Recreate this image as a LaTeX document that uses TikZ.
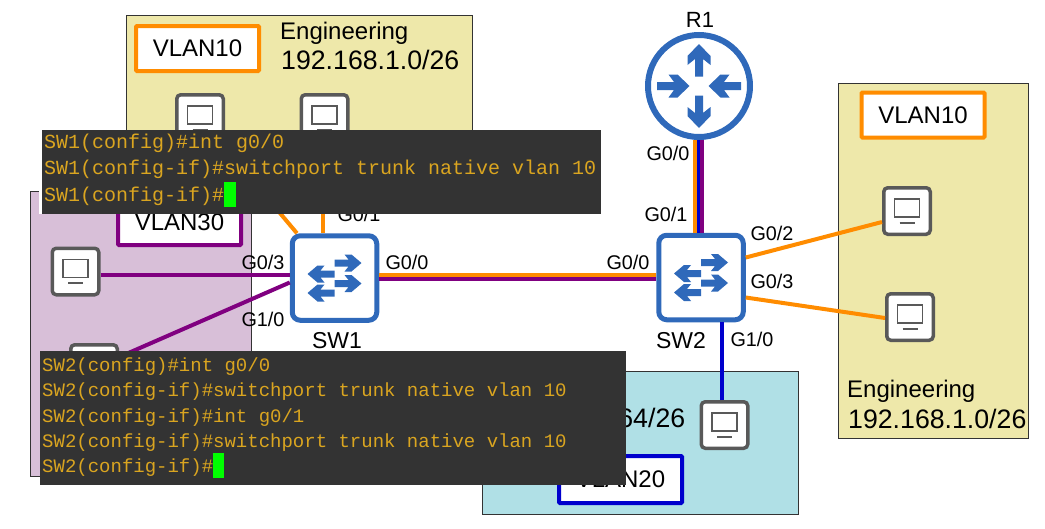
\documentclass[tikz,border=0pt]{standalone}
\usepackage{fontspec}
\setmainfont{Liberation Sans}
\newfontfamily\termfont{Liberation Mono}
\definecolor{iconblue}{HTML}{2F69BA}
\definecolor{icongrey}{HTML}{595959}
\definecolor{linkorange}{HTML}{FF8C00}
\definecolor{linkpurple}{HTML}{800080}
\definecolor{linkblue}{HTML}{0000CD}
\definecolor{zoneyellow}{HTML}{EEE8AA}
\definecolor{zonepurple}{HTML}{D8BFD8}
\definecolor{zoneblue}{HTML}{B0E0E6}
\definecolor{termgrey}{HTML}{333333}
\definecolor{termtext}{HTML}{DAA520}
\definecolor{termcursor}{HTML}{00FF00}
\newcommand{\swrowright}[1]{\fill [iconblue] (0,#1-3.5) -- (14,#1-3.5) -- (10,#1-8.5) -- (17,#1-8.5) -- (27,#1) -- (17,#1+8.5) -- (10,#1+8.5) -- (14,#1+3.5) -- (0,#1+3.5) -- cycle;}
\newcommand{\swrowleft}[1]{\fill [iconblue] (0,#1-3.5) -- (-14,#1-3.5) -- (-10,#1-8.5) -- (-17,#1-8.5) -- (-27,#1) -- (-17,#1+8.5) -- (-10,#1+8.5) -- (-14,#1+3.5) -- (0,#1+3.5) -- cycle;}
\newcommand{\rtrupdown}[1]{\fill [iconblue] (0,#1*-42) -- (11.5,#1*-30) -- (11.5,#1*-21) -- (4,#1*-27) -- (4,#1*-9.5) -- (-4,#1*-9.5) -- (-4,#1*-27) -- (-11.5,#1*-21) -- (-11.5,#1*-30) -- cycle;}
\newcommand{\rtrinward}[1]{\fill [iconblue] (#1*9.5,0) -- (#1*21.5,-11.5) -- (#1*30.5,-11.5) -- (#1*25,-4) -- (#1*42,-4) -- (#1*42,4) -- (#1*25,4) -- (#1*30.5,11.5) -- (#1*21.5,11.5) -- cycle;}
\newcommand{\pcicon}{
\begin{scope}[shift = {(path picture bounding box.center)}, sharp corners]
\draw [icongrey, line width = 1.6pt] (-12.5,-12) rectangle (12.5,6);
\draw [icongrey, line width = 2pt] (-7.5,11.5) -- (7.5,11.5);
\end{scope}}
\newcommand{\swicon}{
\begin{scope}[shift = {(path picture bounding box.center)}, sharp corners]
\swrowright{-15}
\swrowright{5.5}
\swrowleft{-4}
\swrowleft{15}
\end{scope}}
\newcommand{\rtricon}{
\begin{scope}[shift = {(path picture bounding box.center)}, sharp corners]
\rtrupdown{1}
\rtrupdown{-1}
\rtrinward{1}
\rtrinward{-1}
\end{scope}}
\tikzset{
zonebox/.style = {draw = black!80, line width = 1pt, inner sep = 0pt},
vlanbox/.style = {draw = #1, fill = white, line width = 4pt, rounded corners = 1pt, minimum width = 123pt, minimum height = 45pt, inner sep = 0pt, font = \fontsize{24}{28}\selectfont},
pcbox/.style = {draw = icongrey, fill = white, line width = 3.5pt, rounded corners = 4pt, minimum size = 46.5pt, inner sep = 0pt, path picture = {\pcicon}},
swbox/.style = {draw = iconblue, fill = white, line width = 5pt, rounded corners = 8pt, minimum size = 84.5pt, inner sep = 0pt, path picture = {\swicon}},
rtrcircle/.style = {draw = iconblue, fill = white, line width = 6pt, circle, minimum size = 102pt, inner sep = 0pt, path picture = {\rtricon}},
portlabel/.style = {font = \fontsize{19.8}{24}\selectfont, inner sep = 0pt},
devlabel/.style = {font = \fontsize{23}{28}\selectfont, inner sep = 0pt},
zonetext/.style = {anchor = west, inner sep = 0pt, font = \fontsize{24}{28}\selectfont},
zoneaddr/.style = {anchor = west, inner sep = 0pt, font = \fontsize{26.7}{32}\selectfont},
termbox/.style = {fill = termgrey, text = termtext, anchor = north west, align = flush left, inner xsep = 2pt, inner ysep = 0pt, text width = #1},
}
\newcommand{\termcursor}[2]{\textcolor{termcursor}{\smash{\rule[-6pt]{#1}{25pt}}}\rule[-#2]{0pt}{1pt}}

\begin{document}
\begin{tikzpicture} [x = 1pt, y = -1pt]
\useasboundingbox (0,0) rectangle (1045,528);
\node (zone1) [zonebox, fill = zoneyellow, minimum width = 346pt, minimum height = 165pt] at (299,97.5) {};
\node (zone2) [zonebox, fill = zonepurple, minimum width = 221pt, minimum height = 285pt] at (140.5,333.5) {};
\node (zone3) [zonebox, fill = zoneblue, minimum width = 316pt, minimum height = 143pt] at (640,442.5) {};
\node (zone4) [zonebox, fill = zoneyellow, minimum width = 190pt, minimum height = 355pt] at (933,260.5) {};

\node (v10a) [vlanbox = linkorange] at (197.5,48.5) {VLAN10};
\node (v30) [vlanbox = linkpurple] at (179.5,222.5) {VLAN30};
\node (v20) [vlanbox = linkblue, minimum height = 47pt] at (620.5,479.5) {VLAN20};
\node (v10b) [vlanbox = linkorange] at (923,115) {VLAN10};

\node (t1) [zonetext] at (280,33) {Engineering};
\node (a1) [zoneaddr] at (281,60) {192.168.1.0/26};
\node (t2) [zonetext] at (847,391) {Engineering};
\node (a2) [zoneaddr] at (848,419) {192.168.1.0/26};
\node (a3) [zoneaddr] at (492,418) {192.168.1.64/26};

\node (pc1) [pcbox] at (200,118) {};
\node (pc2) [pcbox] at (324.5,118) {};
\node (pc3) [pcbox] at (75.5,271.5) {};
\node (pc4) [pcbox] at (94,368) {};
\node (pc5) [pcbox] at (907,211) {};
\node (pc6) [pcbox] at (910,317) {};
\node (pc7) [pcbox] at (724.5,425) {};

\node (r1) [rtrcircle] at (699,86) {};
\node (sw1) [swbox] at (334.5,278) {};
\node (sw2) [swbox] at (701,277.5) {};

\draw [linkorange, line width = 4pt] ([xshift = -4pt]r1.south) -- ([xshift = -4pt]r1.south |- sw2.north);
\draw [linkblue, line width = 4pt] ([xshift = -.5pt]r1.south) -- ([xshift = -.5pt]r1.south |- sw2.north);
\draw [linkpurple, line width = 4pt] ([xshift = 3pt]r1.south) -- ([xshift = 3pt]r1.south |- sw2.north);
\draw [linkorange, line width = 4pt] ([yshift = 3pt]sw1.east) -- ([yshift = 2.5pt]sw2.west);
\draw [linkpurple, line width = 4pt] ([yshift = -1pt]sw1.east) -- ([yshift = -1.5pt]sw2.west);
\draw [linkorange, line width = 4pt] (pc1) -- (sw1);
\draw [linkorange, line width = 4pt] ([xshift = -1.5pt]pc2.south) -- ([xshift = -1.5pt]pc2.south |- sw1.north);
\draw [linkpurple, line width = 4pt] ([yshift = -3.5pt]pc3.east) -- ([yshift = -3.5pt]pc3.east -| sw1.west);
\draw [linkpurple, line width = 4pt] (pc4) -- ([yshift = -4.5pt]sw1.west);
\draw [linkorange, line width = 4pt] ([yshift = 20pt]sw2.east) -- ([yshift = -11pt]pc5.west);
\draw [linkorange, line width = 4pt] ([yshift = -20pt]sw2.east) -- ([yshift = -1pt]pc6.west);
\draw [linkblue, line width = 4pt] ([xshift = -3pt]pc7.north) -- ([xshift = -3pt]pc7.north |- sw2.south);

\node (r1lab) [devlabel, font = \fontsize{22}{26}\selectfont] at (700,19.5) {R1};
\node (sw1lab) [devlabel] at (337,341) {SW1};
\node (sw2lab) [devlabel] at (681,341) {SW2};
\node (p1) [portlabel] at (668,153) {G0/0};
\node (p2) [portlabel] at (666,214) {G0/1};
\node (p3) [portlabel] at (772,233) {G0/2};
\node (p4) [portlabel] at (772,281) {G0/3};
\node (p5) [portlabel] at (752,339) {G1/0};
\node (p6) [portlabel] at (628,262) {G0/0};
\node (p7) [portlabel] at (407,262) {G0/0};
\node (p8) [portlabel] at (359,214) {G0/1};
\node (p9) [portlabel] at (263,262) {G0/3};
\node (p10) [portlabel] at (263,319) {G1/0};

\fill [white] (39,191) rectangle (43,214);
\node (term1) [termbox = 555pt, minimum height = 84pt, font = \termfont\fontsize{20}{26.2}\selectfont] at (42,130) {SW1(config)\#int g0/0\\
SW1(config-if)\#switchport trunk native vlan 10\\
SW1(config-if)\#\termcursor{12pt}{9pt}};
\node (term2) [termbox = 582pt, minimum height = 134pt, font = \termfont\fontsize{19}{25.2}\selectfont] at (40,351) {SW2(config)\#int g0/0\\
SW2(config-if)\#switchport trunk native vlan 10\\
SW2(config-if)\#int g0/1\\
SW2(config-if)\#switchport trunk native vlan 10\\
SW2(config-if)\#\termcursor{11pt}{6pt}};
\end{tikzpicture}
\end{document}
